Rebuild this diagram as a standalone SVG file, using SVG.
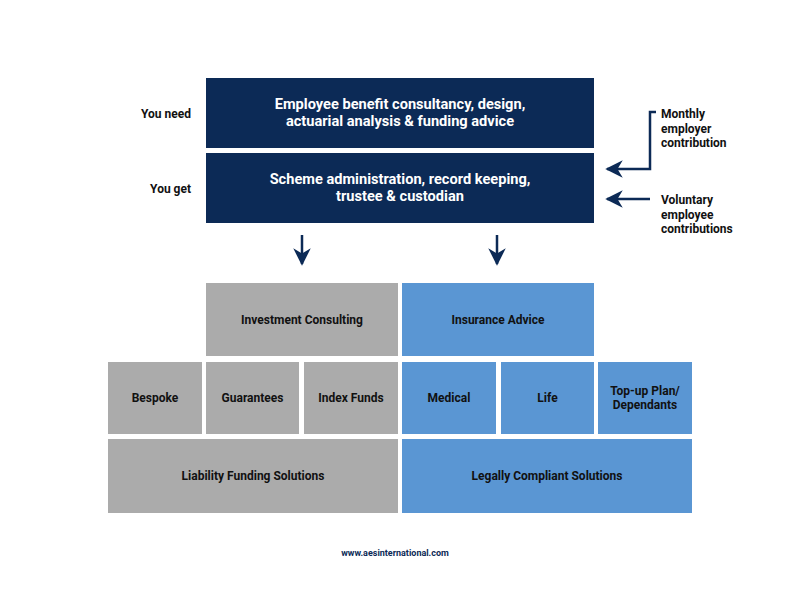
<svg xmlns="http://www.w3.org/2000/svg" width="800" height="592" viewBox="0 0 800 592">
<defs>
<style>
text{font-family:Roboto,"Liberation Sans",sans-serif;font-weight:bold;}
.navy{fill:#0c2a56;}
.gray{fill:#ababab;}
.blue{fill:#5a96d3;}
.wt{fill:#ffffff;font-size:14.6px;text-anchor:middle;}
.bt{fill:#111111;font-size:12px;text-anchor:middle;}
.lbl{fill:#111111;font-size:12px;}
.conn{stroke:#0c2a56;stroke-width:2.5;fill:none;}
</style>
<marker id="ah" viewBox="0 0 10 10" refX="9" refY="5" markerWidth="7.5" markerHeight="7" markerUnits="strokeWidth" orient="auto">
<path d="M0,0 L10,5 L0,10 L3,5 Z" fill="#0c2a56"/>
</marker>
</defs>
<rect width="800" height="592" fill="#ffffff"/>
<g id="need">
<rect class="navy" x="206" y="78" width="388" height="70"/>
<text class="wt" x="400" y="109">Employee benefit consultancy, design,</text>
<text class="wt" x="400" y="126">actuarial analysis &amp; funding advice</text>
</g>
<g id="get">
<rect class="navy" x="206" y="153" width="388" height="70"/>
<text class="wt" x="400" y="184">Scheme administration, record keeping,</text>
<text class="wt" x="400" y="201">trustee &amp; custodian</text>
</g>
<g id="labels">
<text class="lbl" x="191" y="118" text-anchor="end">You need</text>
<text class="lbl" x="191" y="193" text-anchor="end">You get</text>
</g>
<g id="monthly">
<text class="lbl" x="661" y="118">Monthly</text>
<text class="lbl" x="661" y="133">employer</text>
<text class="lbl" x="661" y="147">contribution</text>
</g>
<g id="voluntary">
<text class="lbl" x="661" y="204">Voluntary</text>
<text class="lbl" x="661" y="219">employee</text>
<text class="lbl" x="661" y="233">contributions</text>
</g>
<g id="connectors">
<path class="conn" d="M656,112 H650 V169 H607" marker-end="url(#ah)"/>
<path class="conn" d="M650,199 H607" marker-end="url(#ah)"/>
<path class="conn" d="M302,235 V264" marker-end="url(#ah)"/>
<path class="conn" d="M497,235 V264" marker-end="url(#ah)"/>
</g>
<g id="investment-consulting">
<rect class="gray" x="206" y="283" width="192" height="73"/>
<text class="bt" x="302" y="324">Investment Consulting</text>
</g>
<g id="insurance-advice">
<rect class="blue" x="402" y="283" width="192" height="73"/>
<text class="bt" x="498" y="324">Insurance Advice</text>
</g>
<g id="bespoke">
<rect class="gray" x="108" y="362" width="94" height="72"/>
<text class="bt" x="155" y="402">Bespoke</text>
</g>
<g id="guarantees">
<rect class="gray" x="206" y="362" width="93" height="72"/>
<text class="bt" x="252.5" y="402">Guarantees</text>
</g>
<g id="index-funds">
<rect class="gray" x="304" y="362" width="94" height="72"/>
<text class="bt" x="351" y="402">Index Funds</text>
</g>
<g id="medical">
<rect class="blue" x="402" y="362" width="94" height="72"/>
<text class="bt" x="449" y="402">Medical</text>
</g>
<g id="life">
<rect class="blue" x="501" y="362" width="93" height="72"/>
<text class="bt" x="547.5" y="402">Life</text>
</g>
<g id="top-up">
<rect class="blue" x="598" y="362" width="94" height="72"/>
<text class="bt" x="645" y="395">Top-up Plan/</text>
<text class="bt" x="645" y="409">Dependants</text>
</g>
<g id="liability-funding">
<rect class="gray" x="108" y="439" width="290" height="74"/>
<text class="bt" x="253" y="480">Liability Funding Solutions</text>
</g>
<g id="legally-compliant">
<rect class="blue" x="402" y="439" width="290" height="74"/>
<text class="bt" x="547" y="480">Legally Compliant Solutions</text>
</g>
<text x="395" y="556" fill="#0c2a56" font-size="9" text-anchor="middle">www.aesinternational.com</text>
</svg>
